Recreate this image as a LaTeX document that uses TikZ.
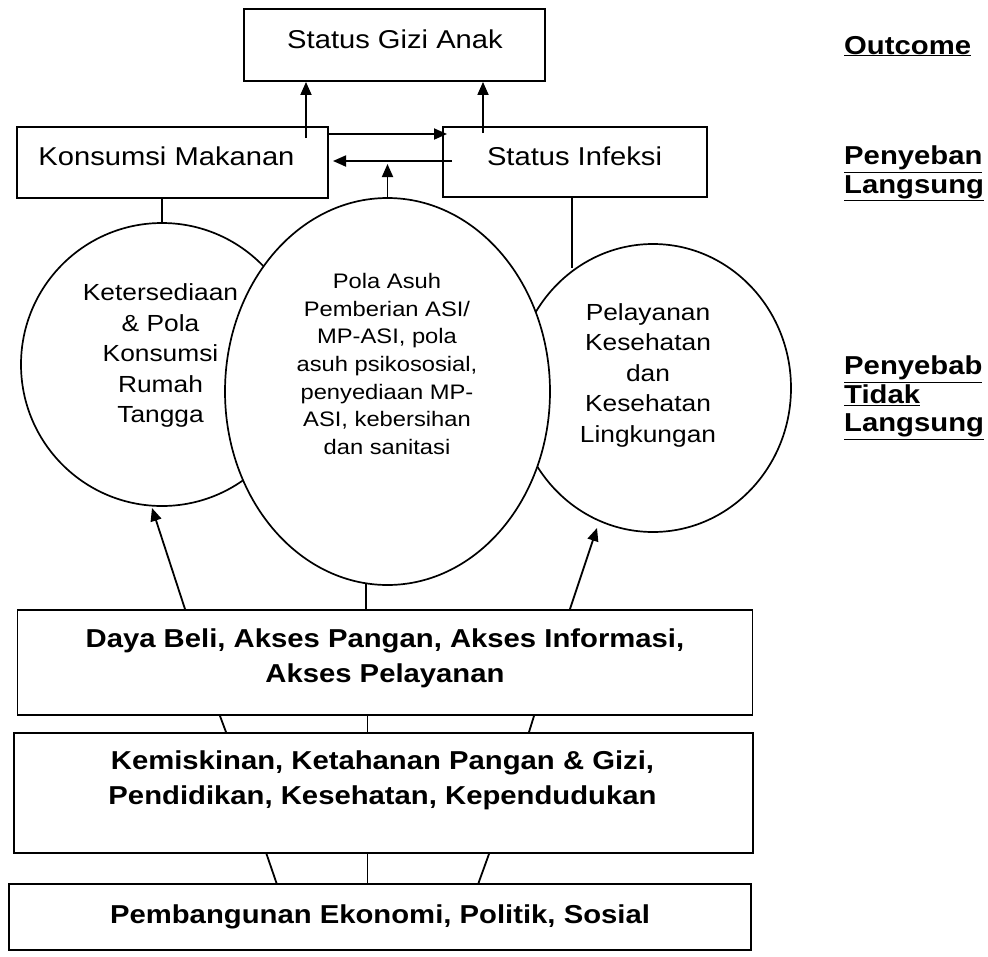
\documentclass[tikz,border=0pt]{standalone}
\usepackage{fontspec}
\setmainfont{Liberation Sans}[FakeStretch=1.13]
\usetikzlibrary{shapes.geometric,arrows.meta}
\begin{document}
\begin{tikzpicture}[x=1pt,y=-1pt,
  rbox/.style={draw, line width=1.9pt, inner sep=0pt},
  oval/.style={ellipse, draw, line width=1.7pt, fill=white, inner sep=0pt},
  conn/.style={line width=1.8pt},
  arr/.style={line width=1.8pt, -{Triangle[length=13pt,width=11pt]}},
  boxtxt/.style={inner sep=0pt, font=\fontsize{25.8}{31}\selectfont},
  sidetxt/.style={inner sep=0pt, align=center, anchor=north, font=\fontsize{23.3}{30.5}\selectfont},
  midtxt/.style={inner sep=0pt, align=center, anchor=north, font=\fontsize{21}{27.7}\selectfont},
  boldtxt/.style={inner sep=0pt, align=center, font=\bfseries\fontsize{25.9}{35}\selectfont},
  hdr/.style={inner sep=0pt, align=left, font=\bfseries\fontsize{25.9}{28.5}\selectfont}]
\useasboundingbox (0,0) rectangle (988,956);
\fill[white] (0,0) rectangle (988,956);

% boxes
\node[rbox, minimum width=301pt, minimum height=72pt] (gizi) at (394.5,45) {};
\node[rbox, minimum width=311pt, minimum height=71pt] (km) at (172.5,162.5) {};
\node[rbox, minimum width=264pt, minimum height=70pt] (si) at (575,162) {};
\node[rbox, minimum width=735pt, minimum height=105pt] (daya) at (385,662.5) {};
\node[rbox, minimum width=739pt, minimum height=120pt] (kem) at (383.5,793) {};
\node[rbox, minimum width=742pt, minimum height=66pt] (pem) at (380,917) {};

% ellipses
\node[oval, minimum width=282pt, minimum height=283pt] (lc) at (162,364.5) {};
\node[oval, minimum width=276pt, minimum height=288pt] (rc) at (653,388) {};
\node[oval, minimum width=325pt, minimum height=387pt] (mc) at (387.5,391.5) {};

% box texts
\node[boxtxt, anchor=base] (tgizi) at (395,48) {Status Gizi Anak};
\node[boxtxt, anchor=base] (tkm) at (166.5,165) {Konsumsi Makanan};
\node[boxtxt, anchor=base] (tsi) at (574.5,165) {Status Infeksi};

% ellipse texts
\node[sidetxt] (tlc) at (160.5,283.5) {Ketersediaan\\\& Pola\\Konsumsi\\Rumah\\Tangga};
\node[midtxt] (tmc) at (387,273) {Pola Asuh\\Pemberian ASI/\\MP-ASI, pola\\asuh psikososial,\\penyediaan MP-\\ASI, kebersihan\\dan sanitasi};
\node[sidetxt] (trc) at (648,303) {Pelayanan\\Kesehatan\\dan\\Kesehatan\\Lingkungan};

% bottom texts
\node[boldtxt, anchor=north] (tdaya) at (385,629) {Daya Beli, Akses Pangan, Akses Informasi,\\Akses Pelayanan};
\node[boldtxt, anchor=north] (tkem) at (382.5,751) {Kemiskinan, Ketahanan Pangan \& Gizi,\\Pendidikan, Kesehatan, Kependudukan};
\node[boldtxt, anchor=base] (tpem) at (380,923) {Pembangunan Ekonomi, Politik, Sosial};

% side headers
\node[hdr, anchor=base west] (hout) at (844,54) {\underline{Outcome}};
\node[hdr, anchor=north west] (hpl) at (844,146) {\underline{Penyeban}\\\underline{Langsung}};
\node[hdr, anchor=north west] (hptl) at (844,356) {\underline{Penyebab}\\\underline{Tidak}\\\underline{Langsung}};

% coordinates for free ends
\coordinate (kmup) at (306,138);
\coordinate (siup) at (483,133);
\coordinate (toSI) at (447,134);
\coordinate (fromSI) at (452,161);
\coordinate (toKM) at (333,161);
\coordinate (midtip) at (387.5,164);
\coordinate (rctop) at (572,268);
\coordinate (lcbot) at (152,508);
\coordinate (mcbot) at (366,584);
\coordinate (rcbot) at (597,528);

% top connectors
\draw[arr] (kmup) -- (kmup |- gizi.south);
\draw[arr] (siup) -- (siup |- gizi.south);
\draw[arr] (km.east |- toSI) -- (toSI);
\draw[arr] (fromSI) -- (toKM);
\draw[arr] (mc.north) -- (midtip);
\draw[conn] (km.south -| lc.north) -- (lc.north);
\draw[conn] (si.south -| rctop) -- (rctop);

% from Daya Beli
\draw[arr] (daya.north -| 185,0) -- (lcbot);
\draw[conn] (daya.north -| mcbot) -- (mcbot);
\draw[arr] (daya.north -| 570,0) -- (rcbot);

% between bottom boxes
\draw[conn] (daya.south -| 220,0) -- (kem.north -| 226,0);
\draw[conn] (daya.south -| 367.5,0) -- (kem.north -| 367.5,0);
\draw[conn] (daya.south -| 534,0) -- (kem.north -| 529,0);
\draw[conn] (kem.south -| 266.5,0) -- (pem.north -| 276.5,0);
\draw[conn] (kem.south -| 367.5,0) -- (pem.north -| 367.5,0);
\draw[conn] (kem.south -| 489,0) -- (pem.north -| 478.5,0);
\end{tikzpicture}
\end{document}
